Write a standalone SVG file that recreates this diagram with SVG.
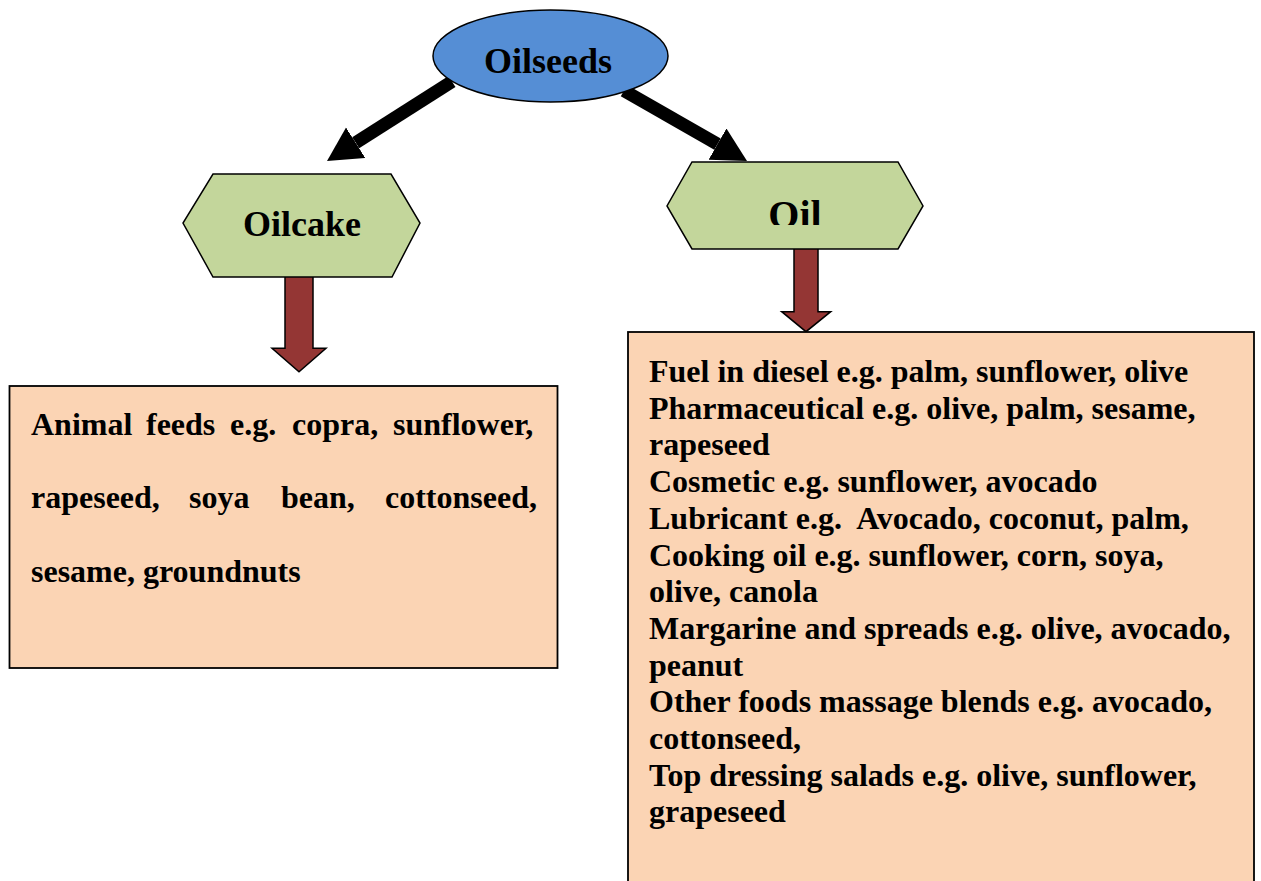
<svg xmlns="http://www.w3.org/2000/svg" width="1261" height="881" viewBox="0 0 1261 881">
<style>
  .t { font-family: "Liberation Serif", "Times New Roman", serif; font-weight: bold; fill: #000; }
  .hex { fill: #C3D69B; stroke: #000; stroke-width: 1.5; }
  .box { fill: #FBD4B4; stroke: #000; stroke-width: 1.8; }
  .blk { stroke: #000; stroke-width: 13; fill: none; }
  .red { fill: #943634; stroke: #000; stroke-width: 1.5; stroke-linejoin: miter; }
  .body { font-size: 32px; }
</style>
<defs>
  <marker id="ah" markerUnits="userSpaceOnUse" markerWidth="36" markerHeight="38" viewBox="0 0 36 38" refX="0" refY="18" orient="auto">
    <path d="M0,0 L34,18 L0,36 z" fill="#000"/>
  </marker>
  <clipPath id="oilclip"><rect x="660" y="150" width="270" height="75"/></clipPath>
</defs>
<rect width="1261" height="881" fill="#fff"/>
<g id="connectors">
  <line class="blk" x1="452" y1="81.5" x2="355.7" y2="142.8" marker-end="url(#ah)"/>
  <line class="blk" x1="624" y1="90.7" x2="717.5" y2="144.1" marker-end="url(#ah)"/>
  <path class="red" d="M285,276 L313,276 L313,348.3 L326,348.3 L299,371.7 L272,348.3 L285,348.3 Z"/>
  <path class="red" d="M794,248 L818,248 L818,311.7 L830.7,311.7 L806,331.7 L781.7,311.7 L794,311.7 Z"/>
</g>
<g id="oilseeds">
  <ellipse cx="550.5" cy="56" rx="117.5" ry="46" fill="#558ED5" stroke="#000" stroke-width="1.5"/>
  <text class="t" x="548" y="73" font-size="36" text-anchor="middle">Oilseeds</text>
</g>
<g id="oilcake">
  <polygon class="hex" points="213,174 391,174 420,223 392,277 213,277 183,223"/>
  <text class="t" x="302" y="236" font-size="36" text-anchor="middle">Oilcake</text>
</g>
<g id="oil">
  <polygon class="hex" points="692,162 898,162 923,206 898,249 692,249 667,206"/>
  <text class="t" x="795" y="228" font-size="40" text-anchor="middle" clip-path="url(#oilclip)">Oil</text>
</g>
<g id="oilcake-uses">
  <rect class="box" x="9.5" y="386" width="548" height="282"/>
  <text class="t body" y="435"><tspan x="31">Animal</tspan><tspan x="146">feeds</tspan><tspan x="230">e.g.</tspan><tspan x="292">copra,</tspan><tspan x="393">sunflower,</tspan></text>
  <text class="t body" y="508"><tspan x="31">rapeseed,</tspan><tspan x="189">soya</tspan><tspan x="281">bean,</tspan><tspan x="385">cottonseed,</tspan></text>
  <text class="t body" x="31" y="582">sesame, groundnuts</text>
</g>
<g id="oil-uses">
  <rect class="box" x="628" y="332" width="626" height="570"/>
  <text class="t body">
    <tspan x="649" y="382">Fuel in diesel e.g. palm, sunflower, olive</tspan>
    <tspan x="649" y="418.7">Pharmaceutical e.g. olive, palm, sesame,</tspan>
    <tspan x="649" y="455.4">rapeseed</tspan>
    <tspan x="649" y="492.1">Cosmetic e.g. sunflower, avocado</tspan>
    <tspan x="649" y="528.8">Lubricant e.g.&#160; Avocado, coconut, palm,</tspan>
    <tspan x="649" y="565.5">Cooking oil e.g. sunflower, corn, soya,</tspan>
    <tspan x="649" y="602.2">olive, canola</tspan>
    <tspan x="649" y="638.9">Margarine and spreads e.g. olive, avocado,</tspan>
    <tspan x="649" y="675.6">peanut</tspan>
    <tspan x="649" y="712.3">Other foods massage blends e.g. avocado,</tspan>
    <tspan x="649" y="749">cottonseed,</tspan>
    <tspan x="649" y="785.7">Top dressing salads e.g. olive, sunflower,</tspan>
    <tspan x="649" y="822.4">grapeseed</tspan>
  </text>
</g>
</svg>
